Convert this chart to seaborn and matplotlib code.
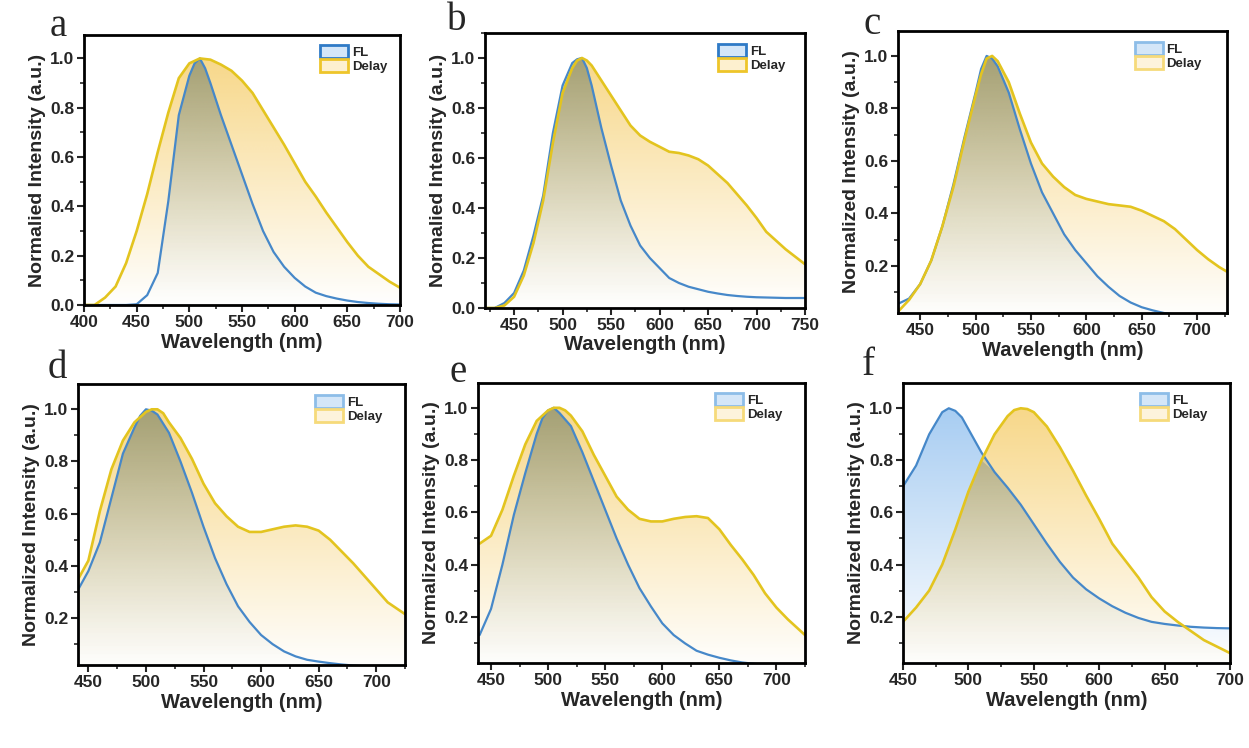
import numpy as np
import matplotlib
matplotlib.use("Agg")
import matplotlib.pyplot as plt
from matplotlib.patches import Patch
from matplotlib.ticker import MultipleLocator, FormatStrFormatter
import seaborn as sns

# wavelength grids (nm) and normalized spectra
# (10 nm steps, with a few extra readings around the peaks)
wl_fl_a = sorted([*range(400, 701, 10), 505, 515])
fl_a = [0, 0, 0, 0, 0, 0.003, 0.04, 0.13, 0.42, 0.77, 0.93, 0.98, 1.0, 0.96, 0.90, 0.77,
        0.65, 0.53, 0.41, 0.30, 0.215, 0.155, 0.11, 0.075, 0.05, 0.036, 0.026, 0.018, 0.012,
        0.008, 0.005, 0.003, 0.002]
wl_delay_a = list(range(400, 701, 10))
delay_a = [0, 0, 0.03, 0.075, 0.17, 0.30, 0.45, 0.62, 0.78, 0.92, 0.98, 1.0, 0.995, 0.975,
           0.95, 0.91, 0.86, 0.79, 0.72, 0.65, 0.575, 0.50, 0.44, 0.375, 0.315, 0.255, 0.20,
           0.155, 0.125, 0.095, 0.07]

wl_fl_b = sorted([*range(420, 751, 10), 515, 525])
fl_b = [0, 0, 0.02, 0.06, 0.15, 0.29, 0.45, 0.70, 0.89, 0.98, 0.995, 1.0, 0.96, 0.89, 0.72,
        0.57, 0.43, 0.33, 0.25, 0.20, 0.16, 0.12, 0.10, 0.085, 0.075, 0.065, 0.058, 0.052,
        0.048, 0.045, 0.043, 0.042, 0.041, 0.04, 0.04, 0.04]
wl_delay_b = sorted([*range(420, 751, 10), 515, 525])
delay_b = [0, 0, 0.01, 0.045, 0.13, 0.26, 0.43, 0.66, 0.86, 0.96, 0.99, 1.0, 0.99, 0.97, 0.91,
           0.85, 0.79, 0.73, 0.69, 0.665, 0.645, 0.625, 0.62, 0.61, 0.595, 0.57, 0.535, 0.50,
           0.455, 0.41, 0.36, 0.305, 0.27, 0.235, 0.205, 0.175]

wl_fl_c = sorted([*range(430, 731, 10), 505, 515])
fl_c = [0.055, 0.075, 0.13, 0.22, 0.35, 0.51, 0.69, 0.86, 0.95, 1.0, 0.99, 0.96, 0.86, 0.72,
        0.59, 0.48, 0.40, 0.32, 0.26, 0.21, 0.16, 0.12, 0.085, 0.06, 0.042, 0.03, 0.02,
        0.014, 0.01, 0.008, 0.006, 0.005, 0.004]
wl_delay_c = sorted([*range(430, 731, 10), 505, 515])
delay_c = [0.025, 0.07, 0.13, 0.22, 0.35, 0.50, 0.68, 0.85, 0.93, 0.99, 1.0, 0.98, 0.90, 0.78,
           0.67, 0.59, 0.54, 0.50, 0.47, 0.455, 0.445, 0.435, 0.43, 0.425, 0.41, 0.39, 0.37,
           0.34, 0.30, 0.26, 0.225, 0.195, 0.17]

wl_fl_d = sorted([*range(440, 731, 10), 495, 505])
fl_d = [0.30, 0.38, 0.49, 0.66, 0.83, 0.93, 0.975, 1.0, 0.995, 0.98, 0.91, 0.80, 0.68, 0.55,
        0.43, 0.33, 0.245, 0.185, 0.135, 0.10, 0.072, 0.053, 0.04, 0.033, 0.027, 0.022,
        0.018, 0.015, 0.012, 0.01, 0.008, 0.007]
wl_delay_d = sorted([*range(440, 731, 10), 505, 515])
delay_d = [0.34, 0.42, 0.61, 0.77, 0.88, 0.95, 0.99, 1.0, 1.0, 0.985, 0.95, 0.89, 0.81, 0.715,
           0.64, 0.59, 0.55, 0.53, 0.53, 0.54, 0.55, 0.555, 0.55, 0.535, 0.50, 0.455, 0.41,
           0.36, 0.31, 0.26, 0.23, 0.20]

wl_fl_e = sorted([*range(440, 731, 10), 495, 505])
fl_e = [0.13, 0.23, 0.40, 0.59, 0.75, 0.90, 0.96, 0.99, 1.0, 0.98, 0.93, 0.83, 0.72, 0.61,
        0.50, 0.40, 0.31, 0.24, 0.175, 0.13, 0.098, 0.07, 0.055, 0.043, 0.033, 0.025, 0.02,
        0.016, 0.013, 0.011, 0.01, 0.009]
wl_delay_e = sorted([*range(440, 731, 10), 505, 515])
delay_e = [0.48, 0.51, 0.61, 0.74, 0.86, 0.95, 0.99, 1.0, 1.0, 0.99, 0.97, 0.91, 0.82, 0.74,
           0.66, 0.61, 0.575, 0.565, 0.565, 0.575, 0.582, 0.585, 0.578, 0.535, 0.475, 0.42,
           0.36, 0.29, 0.235, 0.19, 0.15, 0.11]

wl_fl_f = sorted([*range(450, 701, 10), 485, 495])
fl_f = [0.70, 0.78, 0.90, 0.985, 1.0, 0.99, 0.965, 0.92, 0.83, 0.755, 0.695, 0.63, 0.555,
        0.48, 0.41, 0.35, 0.305, 0.27, 0.24, 0.215, 0.195, 0.18, 0.172, 0.166, 0.161, 0.158,
        0.156, 0.155]
wl_delay_f = sorted([*range(450, 701, 10), 535, 545])
delay_f = [0.18, 0.235, 0.30, 0.40, 0.535, 0.68, 0.80, 0.90, 0.97, 0.993, 1.0, 0.997, 0.985,
           0.93, 0.85, 0.76, 0.665, 0.575, 0.48, 0.415, 0.35, 0.275, 0.22, 0.18, 0.145, 0.11,
           0.085, 0.06]

panels = [
    ("a", wl_fl_a, fl_a, wl_delay_a, delay_a, "Normalied Intensity (a.u.)", (400, 700), (0, 1.095), 0.0, True),
    ("b", wl_fl_b, fl_b, wl_delay_b, delay_b, "Normalied Intensity (a.u.)", (420, 750), (0, 1.1), 0.0, True),
    ("c", wl_fl_c, fl_c, wl_delay_c, delay_c, "Normalized Intensity (a.u.)", (430, 727), (0.02, 1.095), 0.2, False),
    ("d", wl_fl_d, fl_d, wl_delay_d, delay_d, "Normalized Intensity (a.u.)", (441, 725), (0.02, 1.097), 0.2, False),
    ("e", wl_fl_e, fl_e, wl_delay_e, delay_e, "Normalized Intensity (a.u.)", (438.6, 725), (0.023, 1.095), 0.2, False),
    ("f", wl_fl_f, fl_f, wl_delay_f, delay_f, "Normalized Intensity (a.u.)", (450, 700), (0.022, 1.097), 0.2, False),
]

# axes boxes in pixels: left, right, top, bottom ; letter centre
W, H = 1249, 748
boxes = [(84, 400, 35, 305), (485, 805, 33, 308), (898, 1227, 31, 313),
         (78, 405, 384, 665), (478, 805, 383, 663), (903, 1230, 383, 663)]
letters = [(58, 27), (457, 20), (872, 24), (57, 369), (458, 372), (868, 366)]
legend_pos = [(0.747, 0.963), (0.728, 0.96), (0.72, 0.961), (0.725, 0.961),
              (0.725, 0.964), (0.725, 0.964)]

sns.set_style("ticks")
plt.rcParams['font.family'] = ['Liberation Sans', 'DejaVu Sans']
plt.rcParams['font.weight'] = 'bold'
plt.rcParams['axes.labelweight'] = 'bold'

BLUE_TOP = np.array([168, 205, 242]) / 255
YEL_TOP = np.array([243, 190, 60]) / 255
DARK = np.array([80, 98, 90]) / 255


def gradient(ax, x, y, ylo, xlim, kind, z):
    poly = ax.fill_between(x, y, ylo, facecolor='none', edgecolor='none', zorder=z)
    yy = np.linspace(ylo, 1.12, 300)
    t = np.clip(yy, 0, 1)[:, None]
    img = np.ones((300, 2, 4))
    if kind == 'blue':
        img[:, :, :3] = (1 - t * (1 - BLUE_TOP))[:, None, :]
        img[:, :, 3] = 1.0
    elif kind == 'yellow':
        img[:, :, :3] = (1 - t * (1 - YEL_TOP))[:, None, :]
        img[:, :, 3] = 0.6
    else:
        img[:, :, :3] = DARK
        img[:, :, 3] = 0.36 * t ** 1.6
    im = ax.imshow(img, extent=[xlim[0], xlim[1], ylo, 1.12], origin='lower',
                   aspect='auto', interpolation='bilinear', zorder=z)
    im.set_clip_path(poly.get_paths()[0], transform=ax.transData)


fig = plt.figure(figsize=(W / 100, H / 100), dpi=100)

for (letter, wf, fl, wd, dl, ylabel, xlim, ylim, ystart, strong), (l, r, t, b), (lx, ly), lp in zip(
        panels, boxes, letters, legend_pos):
    ax = fig.add_axes([l / W, 1 - b / H, (r - l) / W, (b - t) / H])
    wf, fl, wd, dl = map(np.asarray, (wf, fl, wd, dl))
    gradient(ax, wf, fl, ylim[0], xlim, 'blue', 1)
    gradient(ax, wd, dl, ylim[0], xlim, 'yellow', 1.5)
    # region under both curves gets a darker tint
    wu = np.union1d(wf, wd)
    both = np.minimum(np.interp(wu, wf, fl), np.interp(wu, wd, dl))
    gradient(ax, wu, both, ylim[0], xlim, 'dark', 1.7)
    sns.lineplot(x=wf, y=fl, ax=ax, color='#4688c9', lw=1.6, zorder=3,
                 solid_joinstyle='round')
    sns.lineplot(x=wd, y=dl, ax=ax, color='#e3c41f', lw=1.9, zorder=4,
                 solid_joinstyle='round')
    ax.set_xlim(*xlim)
    ax.set_ylim(*ylim)
    ax.xaxis.set_major_locator(MultipleLocator(50))
    ax.xaxis.set_minor_locator(MultipleLocator(25))
    ax.set_yticks(np.arange(ystart, 1.01, 0.2))
    ax.yaxis.set_minor_locator(MultipleLocator(0.1))
    ax.yaxis.set_major_formatter(FormatStrFormatter('%.1f'))
    ax.tick_params(which='major', direction='out', length=5, width=1.5, labelsize=12.5, pad=2)
    ax.tick_params(which='minor', direction='out', length=3, width=1.2)
    for s in ax.spines.values():
        s.set_linewidth(2)
        s.set_color('black')
        s.set_zorder(6)
    ax.set_xlabel("Wavelength (nm)", fontsize=14.5, labelpad=2)
    ax.set_ylabel(ylabel, fontsize=14, labelpad=3)

    if strong:
        handles = [Patch(facecolor='#d4e6f8', edgecolor='#2f7ac6', lw=2, label='FL'),
                   Patch(facecolor='#fdf0cf', edgecolor='#eec52a', lw=2, label='Delay')]
    else:
        handles = [Patch(facecolor='#d4e6f8', edgecolor='#8dbde8', lw=2, label='FL'),
                   Patch(facecolor='#fdf3dc', edgecolor='#f6da7a', lw=2, label='Delay')]
    ax.legend(handles=handles, loc='upper left', bbox_to_anchor=lp, frameon=False,
              fontsize=9.5, handlelength=2.1, handleheight=1.15, labelspacing=0.0,
              handletextpad=0.3, borderpad=0, borderaxespad=0)

    fig.text(lx / W, 1 - ly / H, letter, ha='center', va='center',
             family=['Liberation Serif', 'DejaVu Serif'], fontweight='normal', fontsize=28)

fig.savefig("out.png", dpi=100)
